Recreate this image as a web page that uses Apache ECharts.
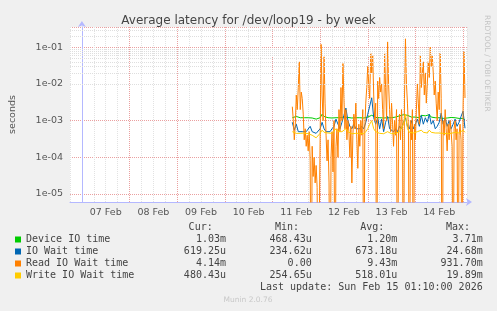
<!DOCTYPE html>
<html><head><meta charset="utf-8">
<script src="https://cdn.jsdelivr.net/npm/echarts@6/dist/echarts.min.js"></script>
<style>html,body{margin:0;padding:0;background:#f0f0f0}#c{width:497px;height:311px}</style>
</head><body><div id="c"></div>
<script>
// ---------- data (values in milliseconds) ----------
const seriesNames = ['Device IO time', 'IO Wait time', 'Read IO Wait time', 'Write IO Wait time'];
const seriesColors = ['#00cc00', '#0066b3', '#ff8000', '#ffcc00'];
// hours after 07 Feb 00:00
const hourlyStart = 106, hourlyStep = 1;
const halfHourStart = 106, halfHourStep = 0.5;
const dayLabels = ['07 Feb', '08 Feb', '09 Feb', '10 Feb', '11 Feb', '12 Feb', '13 Feb', '14 Feb'];

const deviceIOms = [
 1.20,1.25,1.30,1.25,1.20,1.22,1.20,1.18,1.20,1.20,
 1.18,1.12,1.10,1.12,1.20,1.50,1.30,1.22,1.20,1.20,
 1.18,1.20,1.20,1.22,1.20,1.18,1.25,1.20,1.22,1.20,
 1.18,1.15,1.20,1.22,1.20,1.20,1.18,1.20,1.25,1.35,
 1.40,1.30,1.22,1.20,1.20,1.20,1.18,1.22,1.20,1.20,
 1.20,1.22,1.25,1.30,1.35,1.40,1.45,1.60,1.40,1.30,
 1.25,1.20,1.25,1.30,1.20,1.40,1.25,1.35,1.20,1.45,
 1.25,1.30,1.20,1.25,1.20,1.20,1.15,1.20,1.18,1.20,
 1.22,1.15,1.20,1.20,1.15,1.20,1.15,1.03];
const ioWaitms = [
 0.90,0.55,0.80,0.50,0.55,0.50,0.48,0.50,0.52,0.70,
 0.50,0.46,0.45,0.48,0.60,0.90,0.60,0.50,0.55,0.50,
 0.60,0.70,1.10,0.80,0.60,0.90,1.40,2.20,1.00,0.70,
 0.60,0.80,0.60,0.55,0.60,0.70,0.60,0.90,1.50,2.50,
 4.20,1.20,0.80,1.20,0.60,1.10,0.50,0.90,1.30,0.60,
 0.55,0.50,0.60,0.50,0.70,0.60,0.90,1.20,0.70,0.60,
 1.00,0.60,0.80,1.10,0.70,1.40,0.80,1.20,0.90,1.50,
 0.80,1.00,0.60,0.70,0.90,1.60,0.80,1.20,0.70,1.00,
 0.60,0.80,1.10,0.70,0.90,1.30,1.80,0.62];
const readIOWaitms = [
 2.4,1.0,0.3,0.8,5,2,8,40,2,6,
 4,1.5,0.3,0.6,0.2,0.4,0.15,0.5,0.08,0,
 0.2,0.03,0.1,0.02,0.06,0.015,0,0,0.3,120,
 5,1,55,3,0.4,0.08,0.3,0.02,0,0.1,
 0.5,0.04,1,0,0.2,0.6,0.1,2,0.5,8,
 1,36,4,0.6,2,0.3,1,0.5,0.1,0.7,
 0.02,0.4,1.5,0.6,3,0.3,0.05,0.8,0.2,1,
 0.4,2,0,0.6,3,8,30,10,4,70,
 20,60,5,1,3,0,12,4,15,6,
 10,2,0.6,70,8,1,140,10,2,0.5,
 3,0.8,0.2,1,0.4,2,0,0.5,1.5,0.3,
 2,0.6,0,4,170,10,3,0.6,0,1,
 0.3,2,0,0.8,0.3,2,10,3,0.8,60,
 8,20,40,5,20,3,10,40,15,100,
 30,60,20,5,12,3,1,6,2,70,
 4,0,1,0.4,2,0.6,0.15,0.8,0.3,1,
 0.5,0.2,0,0.6,1,0.3,0.6,0,0.4,0.8,
 0.3,0,2,76,4.14];
const writeIOWaitms = [
 0.50,0.46,0.45,0.48,0.45,0.44,0.46,0.45,0.44,0.43,
 0.40,0.36,0.34,0.38,0.45,0.55,0.48,0.45,0.46,0.44,
 0.45,0.48,0.60,0.50,0.46,0.50,0.55,0.60,0.50,0.45,
 0.44,0.46,0.45,0.44,0.45,0.46,0.44,0.50,0.60,0.80,
 1.00,0.60,0.50,0.55,0.45,0.50,0.44,0.46,0.50,0.45,
 0.44,0.43,0.45,0.44,0.50,0.55,0.80,1.50,0.60,0.48,
 0.50,0.46,0.48,0.50,0.46,0.55,0.48,0.50,0.46,0.55,
 0.48,0.50,0.46,0.45,0.46,0.50,0.45,0.48,0.44,0.46,
 0.45,0.46,0.48,0.45,0.46,0.50,0.55,0.48];

const statsCur = ['1.03m', '619.25u', '4.14m', '480.43u'];
const statsMin = ['468.43u', '234.62u', '0.00', '254.65u'];
const statsAvg = ['1.20m', '673.18u', '9.43m', '518.01u'];
const statsMax = ['3.71m', '24.68m', '931.70m', '19.89m'];
const statHeaders = ['Cur:', 'Min:', 'Avg:', 'Max:'];
const lastUpdate = 'Last update: Sun Feb 15 01:10:00 2026';

// ---------- build ----------
const yMin = 6.05e-6, yMax = 0.357;
const zeroFloor = 1e-9; // 0 cannot sit on a log axis: draw it below the plot (clipped)
function toPts(arr, start, step) {
  return arr.map((v, i) => [start + i * step, v > 0 ? v / 1000 : zeroFloor]);
}
const minorLines = [];
for (let e = -6; e <= 0; e++) {
  for (let k = 2; k <= 9; k++) {
    const v = k * Math.pow(10, e);
    if (v > yMin && v < yMax) minorLines.push(v);
  }
}
const gridMarks = minorLines.map(v => ({ yAxis: v }));

const font = 'DejaVu Sans';
const mono = 'DejaVu Sans Mono';
const data = [
  toPts(deviceIOms, hourlyStart, hourlyStep),
  toPts(ioWaitms, hourlyStart, hourlyStep),
  toPts(readIOWaitms, halfHourStart, halfHourStep),
  toPts(writeIOWaitms, hourlyStart, hourlyStep)
];

const series = [{
  type: 'line', name: '_grid', data: [], silent: true, z: 1,
  markLine: { silent: true, symbol: ['none', 'none'], label: { show: false }, animation: false,
    lineStyle: { color: '#dedede', type: [1, 1], width: 1 }, data: gridMarks }
}].concat(seriesNames.map((n, i) => ({
  type: 'line', name: n, data: data[i], showSymbol: false, symbol: 'none',
  lineStyle: { width: 1, color: seriesColors[i] }, itemStyle: { color: seriesColors[i] },
  z: 2 + i, clip: true, animation: false
})));

const colX = [226, 311.7, 397.3, 482.7];
const headX = [212.7, 299, 384.3, 470];
const rowY = [239.5, 251.5, 263.5, 275.5];
const graphics = [];
statHeaders.forEach((h, j) => graphics.push({ type: 'text', x: headX[j], y: 227.3,
  style: { text: h, fill: '#444', font: '10px ' + mono, textAlign: 'right', textVerticalAlign: 'middle' } }));
[statsCur, statsMin, statsAvg, statsMax].forEach((col, j) => col.forEach((s, i) => graphics.push({
  type: 'text', x: colX[j], y: rowY[i],
  style: { text: s, fill: '#444', font: '10px ' + mono, textAlign: 'right', textVerticalAlign: 'middle' } })));
graphics.push({ type: 'text', x: 482.7, y: 287.7,
  style: { text: lastUpdate, fill: '#444', font: '10px ' + mono, textAlign: 'right', textVerticalAlign: 'middle' } });
graphics.push({ type: 'text', x: 248, y: 300,
  style: { text: 'Munin 2.0.76', fill: '#c8c8c8', font: '7.5px ' + font, textAlign: 'center', textVerticalAlign: 'middle' } });
graphics.push({ type: 'text', x: 487, y: 15, rotation: -Math.PI / 2,
  style: { text: 'RRDTOOL / TOBI OETIKER', fill: '#c4c4c4', font: '7.5px ' + font, textAlign: 'left', textVerticalAlign: 'middle' } });

const chart = echarts.init(document.getElementById('c'), null, { renderer: 'canvas', width: 497, height: 311 });
chart.setOption({
  backgroundColor: '#f0f0f0',
  animation: false,
  title: { text: 'Average latency for /dev/loop19 - by week', left: 'center', top: 10,
    textStyle: { fontFamily: font, fontSize: 12, fontWeight: 'normal', color: '#444' } },
  grid: { left: 67, top: 27, width: 400, height: 175, show: true, backgroundColor: '#ffffff', borderWidth: 0 },
  xAxis: {
    type: 'value', min: -6, max: 194, interval: 6,
    axisLine: { show: true, onZero: false, lineStyle: { color: '#b4b8ff', width: 1 },
      symbol: ['none', 'arrow'], symbolSize: [6, 6], symbolOffset: [0, 5] },
    axisTick: { show: false },
    axisLabel: { margin: 6, fontFamily: font, fontSize: 9.5, color: '#555',
      formatter: v => { const d = (v - 12) / 24; return (Number.isInteger(d) && d >= 0 && d < dayLabels.length) ? dayLabels[d] : ''; } },
    splitLine: { show: true, lineStyle: { color: ['#e2e2e2', '#eaa0a0', '#e2e2e2', '#e2e2e2'], type: [1, 1], width: 1 } }
  },
  yAxis: {
    type: 'log', logBase: 10, min: yMin, max: yMax,
    axisLine: { show: true, lineStyle: { color: '#b4b8ff', width: 1 },
      symbol: ['none', 'arrow'], symbolSize: [6, 6], symbolOffset: [0, 6] },
    axisTick: { show: false },
    splitLine: { show: true, lineStyle: { color: '#eaa0a0', type: [1, 1], width: 1 } },
    axisLabel: { margin: 7, fontFamily: font, fontSize: 9.5, color: '#555',
      formatter: v => { const e = Math.log10(v); const r = Math.round(e);
        if (Math.abs(e - r) > 1e-6) return ''; const a = Math.abs(r);
        return '1e' + (r < 0 ? '-' : '+') + (a < 10 ? '0' : '') + a; } },
    name: 'seconds', nameLocation: 'middle', nameGap: 52,
    nameTextStyle: { fontFamily: font, fontSize: 9.5, color: '#555' }
  },
  legend: {
    orient: 'vertical', left: 15, top: 233.5, itemWidth: 6, itemHeight: 6, itemGap: 0, padding: 0,
    icon: 'rect', selectedMode: false, data: seriesNames,
    textStyle: { fontFamily: mono, fontSize: 10, color: '#444', lineHeight: 12 }
  },
  graphic: graphics,
  series: series
});
</script></body></html>
